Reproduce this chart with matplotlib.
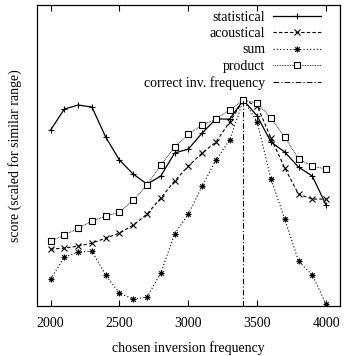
import matplotlib
matplotlib.use("Agg")
import matplotlib.pyplot as plt

plt.rcParams['font.family'] = ['Liberation Serif', 'DejaVu Serif']
plt.rcParams['font.size'] = 10

# inversion frequencies tried (Hz)
freqs = [2000, 2100, 2200, 2300, 2400, 2500, 2600, 2700, 2800, 2900, 3000,
         3100, 3200, 3300, 3400, 3500, 3600, 3700, 3800, 3900, 4000]

# scores (scaled for similar range)
statistical = [176, 197, 201, 199, 169, 146, 132, 122, 130, 153, 157,
               173, 187, 187, 206, 190, 164, 154, 139, 130, 101]
acoustical = [57, 58, 60, 63, 68, 73, 81, 92, 108, 125, 140,
              153, 164, 184, 206, 200, 168, 138, 112, 107, 107]
sum_score = [27, 49, 54, 55, 31, 13, 7, 9, 33, 72, 92,
             120, 146, 166, 206, 184, 127, 87, 45, 31, 2]
product = [65, 71, 78, 85, 90, 94, 106, 121, 141, 159, 172,
           181, 187, 196, 206, 203, 188, 169, 147, 140, 137]

correct_freq = 3400
x_ticks = [2000, 2500, 3000, 3500, 4000]

fig = plt.figure(figsize=(3.44, 3.56), dpi=100)
ax = fig.add_axes([0.107, 0.14, 0.881, 0.846])

ax.plot(freqs, statistical, color='black', lw=0.9, marker='+', ms=5, mew=0.8,
        label='statistical')
ax.plot(freqs, acoustical, color='black', lw=0.8, ls=(0, (3, 2)), marker='x',
        ms=4, mew=0.8, label='acoustical')
ax.plot(freqs, sum_score, color='black', lw=0.8, ls=(0, (1, 2)),
        marker=(8, 2, 0), ms=4, mew=0.7, label='sum')
ax.plot(freqs, product, color='black', lw=0.6, ls=(0, (1, 1)), marker='s',
        ms=4.5, mew=0.8, mfc='white', mec='black', label='product')
ax.plot([correct_freq, correct_freq], [0, max(statistical)], color='black',
        lw=0.8, ls=(0, (5, 2, 1, 2)), label='correct inv. frequency')

ax.set_xlim(1900, 4100)
ax.set_ylim(0, 301)
ax.set_xticks(x_ticks)
ax.set_yticks([])
ax.tick_params(axis='x', direction='in', top=True, length=4, width=0.8,
               labelsize=10, pad=8)
for s in ax.spines.values():
    s.set_linewidth(0.9)

ax.set_xlabel('chosen inversion frequency', fontsize=10, labelpad=8)
ax.set_ylabel('score (scaled for similar range)', fontsize=10, labelpad=11)

ax.legend(loc='upper right', frameon=False, markerfirst=False, fontsize=10,
          handlelength=3.4, handletextpad=0.6, labelspacing=0.25,
          borderaxespad=0.0, bbox_to_anchor=(0.955, 1.0))

fig.savefig('out.png', dpi=100)
